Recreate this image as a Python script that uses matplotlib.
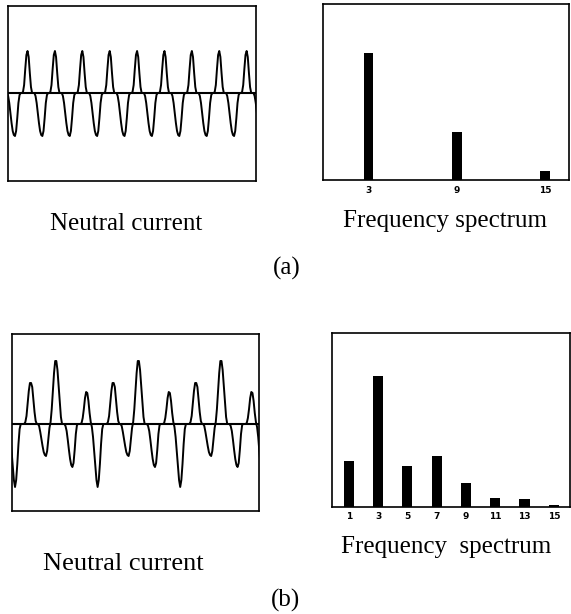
#!/usr/bin/env python3
"""Neutral current waveforms and their harmonic spectra, cases (a) and (b)."""

import numpy as np
import matplotlib

matplotlib.use("Agg")
import matplotlib.pyplot as plt

W, H = 571, 614

# one 3rd-harmonic cycle of the case (a) neutral current, starting at a trough
# (24 samples, arbitrary units ~ pixels)
wave_a_cycle = [-43, -38, -25, -10, -2, 0, 0, 1, 8, 24, 38, 42,
                36, 20, 6, 0, 0, 0, -3, -10, -20, -30, -38, -42]

# one fundamental cycle of the case (b) neutral current, starting at the deep trough
# (72 samples)
wave_b_cycle = [-63, -56, -40, -20, -5, 0, 0, 0, 0, 2, 8, 20,
                33, 41, 41, 37, 25, 12, 3, 0, 0, -2, -8, -15,
                -22, -28, -31, -32, -27, -15, -4, 2, 15, 33, 51, 63,
                63, 54, 38, 21, 7, 0, 0, 0, -2, -7, -16, -26,
                -35, -41, -43, -39, -26, -10, -1, 0, 0, 0, 1, 6,
                15, 26, 32, 31, 23, 11, 2, -3, -13, -27, -42, -56]

# harmonic spectra (3rd harmonic = 100)
harm_a = [3, 9, 15]
mag_a = [100, 38, 7]
harm_b = [1, 3, 5, 7, 9, 11, 13, 15]
mag_b = [35, 100, 31, 39, 18, 6.4, 5.6, 1.3]

SERIF = ["Liberation Serif", "DejaVu Serif"]


def px_axes(fig, x0, y0, x1, y1):
    """Axes from pixel box (top-left origin)."""
    return fig.add_axes([x0 / W, 1 - y1 / H, (x1 - x0) / W, (y1 - y0) / H])


def px_text(fig, x, y, s, size):
    fig.text(x / W, 1 - y / H, s, ha="center", va="center",
             fontsize=size, family=SERIF, color="black")


def style_box(ax):
    for sp in ax.spines.values():
        sp.set_linewidth(1.2)
        sp.set_color("black")


def draw_wave(ax, cycle, n_cycles, xlim, ylim):
    per = len(cycle)
    vals = np.tile(np.asarray(cycle, dtype=float), n_cycles)
    t = np.arange(len(vals)) / per - 1.0
    ax.axhline(0, color="black", lw=1.5)
    ax.plot(t, vals, color="black", lw=1.4)
    ax.set_xlim(*xlim)
    ax.set_ylim(*ylim)
    ax.set_xticks([])
    ax.set_yticks([])
    style_box(ax)


def draw_spectrum(ax, harm, mag, width, xlim, ytop):
    ax.bar(harm, mag, width=width, color="black")
    ax.set_xlim(*xlim)
    ax.set_ylim(0, ytop)
    ax.set_yticks([])
    ax.set_xticks(harm)
    ax.set_xticklabels([str(h) for h in harm], fontsize=6.5,
                       fontweight="bold", family=["DejaVu Sans"])
    ax.tick_params(axis="x", length=0, pad=4)
    style_box(ax)


def main() -> int:
    fig = plt.figure(figsize=(W / 100, H / 100), dpi=100)

    # (a)
    ax = px_axes(fig, 8, 5.5, 256, 181)
    draw_wave(ax, wave_a_cycle, 11, (-0.255, 8.80), (-88, 87.5))
    ax = px_axes(fig, 323.3, 4, 568.7, 180)
    draw_spectrum(ax, harm_a, mag_a, 0.64, (-0.08, 16.61), 138.6)

    # (b)
    ax = px_axes(fig, 12.3, 334, 259, 510.7)
    draw_wave(ax, wave_b_cycle, 4, (-0.033, 2.954), (-86.7, 90))
    ax = px_axes(fig, 332.3, 333.3, 570, 506.7)
    draw_spectrum(ax, harm_b, mag_b, 0.7, (-0.12, 16.1), 132.4)

    px_text(fig, 125.8, 224, "Neutral current", 18)
    px_text(fig, 444.7, 221, "Frequency spectrum", 18)
    px_text(fig, 287, 268, "(a)", 18)
    px_text(fig, 123.7, 564, "Neutral current", 19)
    px_text(fig, 445.8, 547, "Frequency  spectrum", 18)
    px_text(fig, 285, 600, "(b)", 18)

    fig.savefig("out.png", dpi=100)
    plt.close(fig)
    return 0


if __name__ == "__main__":
    raise SystemExit(main())
